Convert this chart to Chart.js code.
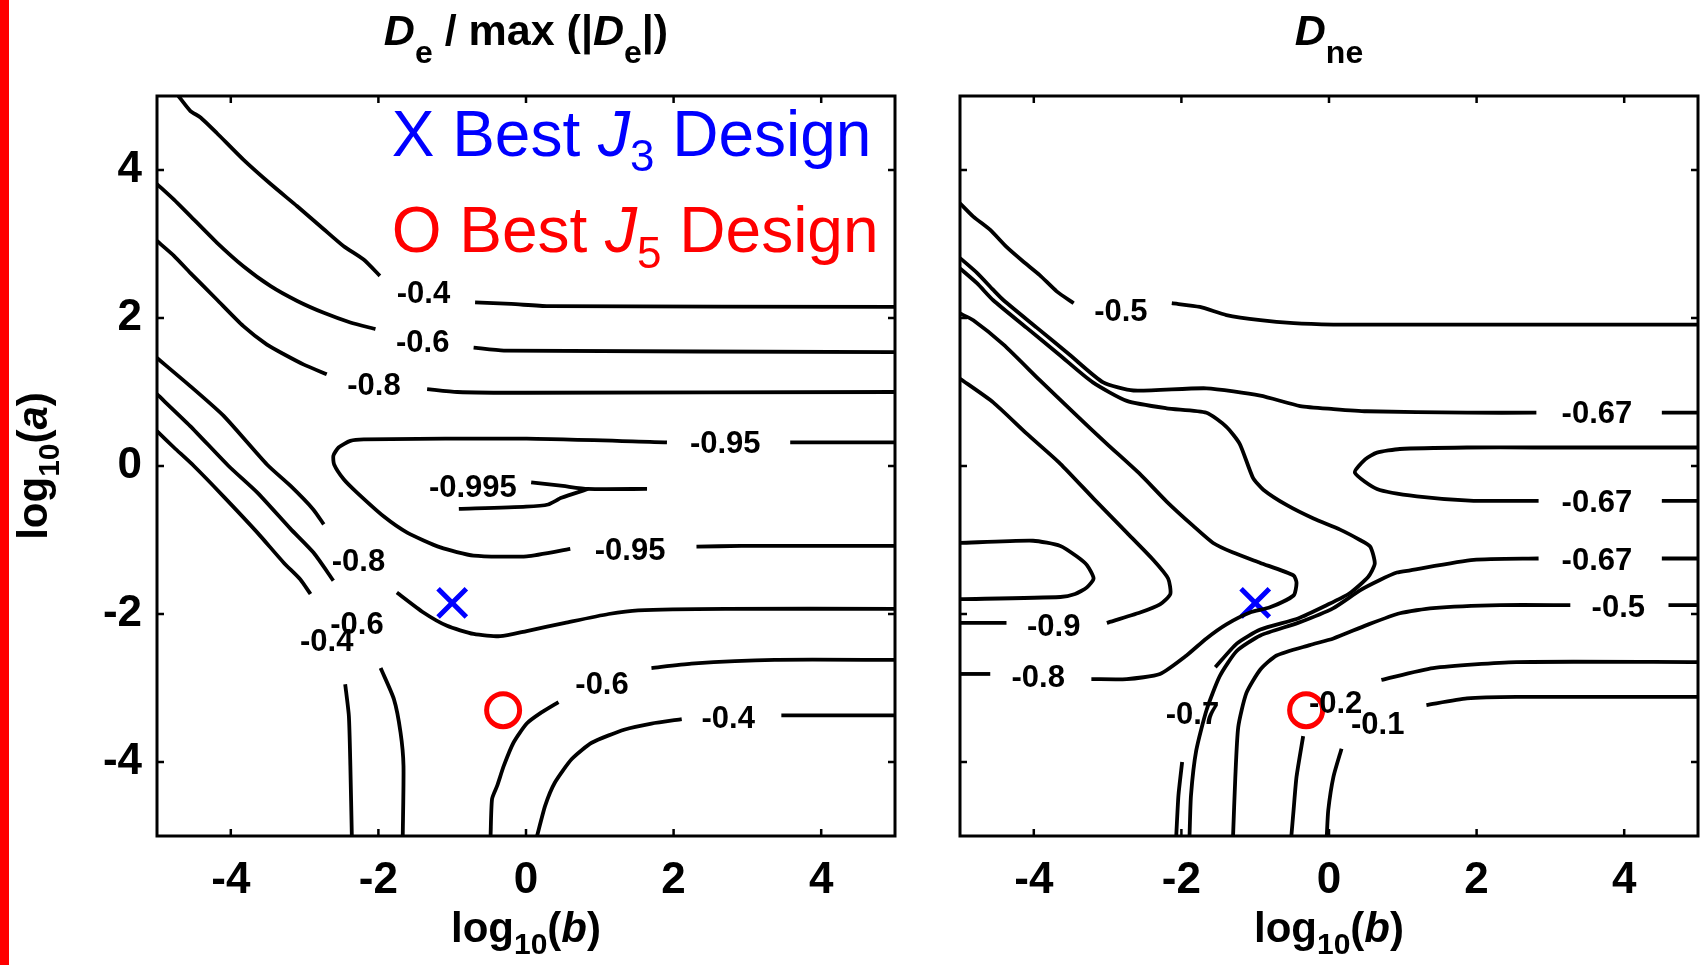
<!DOCTYPE html>
<html>
<head>
<meta charset="utf-8">
<script src="https://cdn.jsdelivr.net/npm/chart.js@4.4.0/dist/chart.umd.min.js"></script>
<style>
html, body { margin: 0; padding: 0; background: #fff; }
body { width: 1702px; height: 965px; position: relative; overflow: hidden; }
#bar { position: absolute; left: 0; top: 0; width: 9px; height: 965px; background: #ff0000; z-index: 2; }
#left { position: absolute; left: 0; top: 0; }
#right { position: absolute; left: 930px; top: 0; }
</style>
</head>
<body>
<div id="bar"></div>
<canvas id="left" width="930" height="965"></canvas>
<canvas id="right" width="772" height="965"></canvas>
<script>
'use strict';

const FONT = "'Liberation Sans', Arial, Helvetica, sans-serif";

let xTicks = [-4, -2, 0, 2, 4];
let yTicks = [-4, -2, 0, 2, 4];

let bestJ3 = [-1.0, -1.85];
let bestJ5 = [-0.31, -3.30];

// left panel, De / max(|De|): each contour piece between label gaps
let de04UpperA = [[-4.71,5],[-4.55,4.80],[-4.41,4.71],[-4.19,4.50],[-3.83,4.14],[-3.46,3.81],[-3.10,3.51],[-2.74,3.20],[-2.47,2.97],[-2.20,2.79],[-1.98,2.57]];
let de04UpperB = [[-0.69,2.21],[-0.20,2.19],[0.30,2.16],[5,2.15]];
let de06UpperA = [[-5,3.81],[-4.77,3.60],[-4.55,3.38],[-4.19,3.02],[-3.83,2.70],[-3.46,2.43],[-3.10,2.23],[-2.74,2.07],[-2.38,1.94],[-2.04,1.85]];
let de06UpperB = [[-0.71,1.60],[-0.30,1.56],[5,1.54]];
let de08UpperA = [[-5,3.04],[-4.77,2.84],[-4.55,2.61],[-4.19,2.25],[-3.83,1.89],[-3.51,1.64],[-3.28,1.51],[-3.01,1.37],[-2.70,1.24]];
let de08UpperB = [[-1.34,1.04],[-0.93,1.00],[0,0.99],[5,1.00]];
let de095A = [[5,0.32],[3.58,0.32]];
let de095B = [[1.91,0.32],[0.01,0.37],[-2.20,0.36],[-2.38,0.34],[-2.54,0.25],[-2.61,0.14],[-2.60,0.02],[-2.47,-0.18],[-2.29,-0.36],[-1.93,-0.68],[-1.61,-0.90],[-1.16,-1.10],[-0.71,-1.21],[0.01,-1.22],[0.60,-1.12]];
let de095C = [[2.31,-1.09],[2.92,-1.08],[5,-1.08]];
let de0995A = [[0.07,-0.22],[0.50,-0.27],[0.84,-0.31],[1.64,-0.31]];
let de0995B = [[-0.91,-0.58],[0,-0.55],[0.30,-0.52],[0.48,-0.43],[0.84,-0.31]];
let de08LowerA = [[-5,1.46],[-4.55,1.08],[-4.10,0.68],[-3.51,0.02],[-3.19,-0.27],[-2.88,-0.59],[-2.74,-0.79]];
let de08LowerB = [[-1.75,-1.71],[-1.39,-1.98],[-1.07,-2.16],[-0.71,-2.27],[-0.35,-2.30],[0.01,-2.23],[0.53,-2.12],[1.12,-2.00],[1.52,-1.95],[2.70,-1.93],[5,-1.93]];
let de06LowerA = [[-5,0.97],[-4.55,0.54],[-4.03,0.0],[-3.64,-0.36],[-3.19,-0.85],[-2.88,-1.17],[-2.61,-1.55]];
let de06LowerB = [[-1.97,-2.73],[-1.79,-3.15],[-1.70,-3.60],[-1.66,-4.05],[-1.67,-5]];
let de04LowerA = [[-5,0.47],[-4.77,0.25],[-4.50,0.0],[-4.10,-0.41],[-3.64,-0.90],[-3.28,-1.31],[-3.06,-1.53],[-2.92,-1.73]];
let de04LowerB = [[-2.45,-2.95],[-2.40,-3.38],[-2.38,-4.05],[-2.36,-5]];
let de06RightA = [[-0.48,-5],[-0.46,-4.50],[-0.39,-4.32],[-0.30,-4.05],[-0.17,-3.74],[0.01,-3.48],[0.21,-3.33],[0.44,-3.19]];
let de06RightB = [[1.70,-2.73],[2.24,-2.67],[3.37,-2.62],[5,-2.62]];
let de04RightA = [[0.15,-5],[0.26,-4.59],[0.39,-4.28],[0.62,-3.96],[0.89,-3.74],[1.34,-3.56],[1.70,-3.48],[2.11,-3.42]];
let de04RightB = [[3.46,-3.37],[5,-3.37]];

let deLabels = [['-0.4',-1.39,2.32],['-0.6',-1.40,1.66],['-0.8',-2.06,1.07],['-0.95',2.70,0.29],['-0.995',-0.72,-0.31],
  ['-0.95',1.41,-1.16],['-0.8',-2.27,-1.31],['-0.4',-2.70,-2.39],['-0.6',-2.29,-2.16],['-0.6',1.03,-2.96],['-0.4',2.74,-3.42]];

// right panel, Dne
let dne05UpperA = [[-5,3.55],[-4.82,3.37],[-4.59,3.19],[-4.37,2.96],[-4.14,2.76],[-3.92,2.58],[-3.69,2.36],[-3.46,2.20]];
let dne05UpperB = [[-2.13,2.20],[-1.75,2.15],[-1.39,2.04],[-0.93,1.97],[-0.48,1.93],[0.06,1.91],[0.42,1.91],[5,1.91]];
let dne067TopA = [[-5,2.81],[-4.77,2.61],[-4.55,2.38],[-4.41,2.24],[-3.96,1.87],[-3.51,1.50],[-3.06,1.13],[-2.65,1.02],[-1.66,1.05],[-0.93,0.95],[-0.39,0.81],[0.06,0.77],[0.51,0.74],[1.87,0.72],[2.81,0.72]];
let dne067TopB = [[4.51,0.72],[5,0.72]];
let dne07A = [[-5,2.67],[-4.77,2.47],[-4.55,2.24],[-4.10,1.87],[-3.65,1.50],[-3.20,1.13],[-2.74,0.88],[-2.20,0.78],[-1.66,0.72],[-1.39,0.53],[-1.21,0.30],[-1.03,-0.16],[-0.89,-0.32],[-0.57,-0.53],[-0.21,-0.71],[0.15,-0.86],[0.42,-1.00],[0.56,-1.09],[0.62,-1.32],[0.53,-1.50],[0.28,-1.72],[-0.03,-1.88],[-0.42,-2.06],[-0.93,-2.21],[-1.25,-2.40],[-1.54,-2.72]];
let dne07B = [[-1.99,-4.00],[-2.04,-4.45],[-2.07,-5]];
let dne067MidA = [[5,0.25],[2.77,0.25],[1.87,0.25],[0.96,0.23],[0.65,0.18],[0.49,0.09],[0.35,-0.09],[0.65,-0.31],[1.19,-0.41],[1.96,-0.47],[2.84,-0.47]];
let dne067MidB = [[4.51,-0.47],[5,-0.47]];
let dne067LowA = [[5,-1.25],[4.51,-1.25]];
let dne067LowB = [[2.84,-1.25],[1.96,-1.27],[1.10,-1.41],[0.92,-1.44],[0.69,-1.54],[0.42,-1.68],[0.06,-1.92],[-0.42,-2.12],[-0.93,-2.29],[-1.25,-2.50],[-1.48,-2.84],[-1.66,-3.30],[-1.80,-3.85],[-1.87,-4.45],[-1.89,-5]];
let dne05LowA = [[5,-1.88],[4.60,-1.88]];
let dne05LowB = [[3.27,-1.88],[2.32,-1.88],[1.41,-1.92],[0.96,-1.99],[0.51,-2.15],[0.06,-2.33],[-0.26,-2.42],[-0.71,-2.56],[-0.93,-2.75],[-1.12,-3.07],[-1.23,-3.53],[-1.27,-4.22],[-1.30,-5]];
let dne02A = [[5,-2.65],[2.54,-2.65],[1.41,-2.73],[0.71,-2.89]];
let dne02B = [[-0.35,-3.65],[-0.44,-4.20],[-0.48,-4.65],[-0.51,-5]];
let dne01A = [[5,-3.12],[2.54,-3.12],[1.87,-3.14],[1.32,-3.23]];
let dne01B = [[0.17,-3.82],[0.06,-4.20],[-0.01,-4.65],[-0.03,-5]];
let dne08A = [[-5,2.06],[-4.82,1.97],[-4.41,1.64],[-3.92,1.16],[-3.46,0.72],[-3.01,0.30],[-2.56,-0.11],[-2.20,-0.48],[-1.84,-0.81],[-1.57,-1.04],[-1.30,-1.17],[-0.93,-1.31],[-0.48,-1.48],[-0.44,-1.58],[-0.48,-1.75],[-0.80,-1.91],[-1.07,-1.98],[-1.39,-2.14],[-1.66,-2.33],[-1.93,-2.56],[-2.29,-2.81],[-2.74,-2.88],[-3.22,-2.88]];
let dne08B = [[-4.59,-2.81],[-5,-2.81]];
let dne09A = [[-5,1.18],[-4.55,0.86],[-4.10,0.44],[-3.64,0.03],[-3.19,-0.44],[-2.74,-0.90],[-2.38,-1.27],[-2.18,-1.52],[-2.15,-1.73],[-2.29,-1.87],[-2.56,-1.98],[-3.01,-2.12]];
let dne09B = [[-4.37,-2.12],[-5,-2.12]];
let dneInner = [[-5,-1.04],[-4.01,-1.01],[-3.64,-1.08],[-3.42,-1.22],[-3.28,-1.34],[-3.19,-1.52],[-3.28,-1.64],[-3.44,-1.73],[-3.64,-1.77],[-5,-1.80]];

let dneLabels = [['-0.5',-2.82,2.08],['-0.67',3.63,0.69],['-0.67',3.63,-0.50],['-0.67',3.63,-1.29],['-0.5',3.92,-1.92],
  ['-0.9',-3.73,-2.18],['-0.8',-3.94,-2.87],['-0.7',-1.85,-3.37],['-0.2',0.09,-3.22],['-0.1',0.66,-3.50]];

let deLines = [de04UpperA, de04UpperB, de06UpperA, de06UpperB, de08UpperA, de08UpperB, de095A, de095B, de095C,
  de0995A, de0995B, de08LowerA, de08LowerB, de06LowerA, de06LowerB, de04LowerA, de04LowerB,
  de06RightA, de06RightB, de04RightA, de04RightB];
let dneLines = [dne05UpperA, dne05UpperB, dne067TopA, dne067TopB, dne07A, dne07B, dne067MidA, dne067MidB,
  dne067LowA, dne067LowB, dne05LowA, dne05LowB, dne02A, dne02B, dne01A, dne01B, dne08A, dne08B, dne09A, dne09B, dneInner];

function lineSets(lines) {
  let sets = lines.map(function (pts) {
    return {
      data: pts.map(p => ({ x: p[0], y: p[1] })),
      showLine: true, fill: false, tension: 0.2,
      borderColor: '#000', borderWidth: 3.8, pointRadius: 0, pointHoverRadius: 0
    };
  });
  sets.push({ data: [{ x: bestJ3[0], y: bestJ3[1] }], pointStyle: 'crossRot', pointRadius: 20,
    borderColor: '#0000ff', backgroundColor: 'rgba(0,0,0,0)', borderWidth: 5, showLine: false });
  sets.push({ data: [{ x: bestJ5[0], y: bestJ5[1] }], pointStyle: 'circle', pointRadius: 16.5,
    borderColor: '#ff0000', backgroundColor: 'rgba(0,0,0,0)', borderWidth: 5, showLine: false });
  return sets;
}

function drawRich(ctx, parts, x, y, center) {
  let w = 0;
  parts.forEach(p => { ctx.font = p[1]; w += ctx.measureText(p[0]).width; });
  let cx = center ? x - w / 2 : x;
  ctx.textAlign = 'left';
  ctx.textBaseline = 'alphabetic';
  parts.forEach(p => {
    ctx.font = p[1];
    ctx.fillText(p[0], cx, y + (p[2] || 0));
    cx += ctx.measureText(p[0]).width;
  });
}

function axisParts(v) {
  return [['log', 'bold 42px ' + FONT], ['10', 'bold 30px ' + FONT, 12], ['(', 'bold 42px ' + FONT],
    [v, 'italic bold 42px ' + FONT], [')', 'bold 42px ' + FONT]];
}

function makeDeco(labels, title, yTitle, notes) {
  return {
    id: 'deco',
    afterDatasetsDraw(chart) {
      let ctx = chart.ctx, a = chart.chartArea, xs = chart.scales.x, ys = chart.scales.y;
      ctx.save();
      ctx.fillStyle = '#000';
      ctx.font = 'bold 31px ' + FONT;
      ctx.textAlign = 'center';
      ctx.textBaseline = 'middle';
      labels.forEach(l => ctx.fillText(l[0], xs.getPixelForValue(l[1]), ys.getPixelForValue(l[2])));

      ctx.strokeStyle = '#000';
      ctx.lineWidth = 3;
      ctx.strokeRect(a.left, a.top, a.right - a.left, a.bottom - a.top);
      ctx.lineWidth = 2.5;
      ctx.beginPath();
      xTicks.forEach(v => {
        let px = xs.getPixelForValue(v);
        ctx.moveTo(px, a.bottom); ctx.lineTo(px, a.bottom - 7);
        ctx.moveTo(px, a.top); ctx.lineTo(px, a.top + 7);
      });
      yTicks.forEach(v => {
        let py = ys.getPixelForValue(v);
        ctx.moveTo(a.left, py); ctx.lineTo(a.left + 7, py);
        ctx.moveTo(a.right, py); ctx.lineTo(a.right - 7, py);
      });
      ctx.stroke();

      ctx.fillStyle = '#000';
      drawRich(ctx, title, (a.left + a.right) / 2, 45, true);
      drawRich(ctx, axisParts('b'), (a.left + a.right) / 2, 942, true);
      if (yTitle) {
        ctx.save();
        ctx.translate(47, (a.top + a.bottom) / 2);
        ctx.rotate(-Math.PI / 2);
        drawRich(ctx, axisParts('a'), 0, 0, true);
        ctx.restore();
      }
      notes.forEach(n => {
        ctx.fillStyle = n.color;
        drawRich(ctx, n.parts, xs.getPixelForValue(n.x), ys.getPixelForValue(n.y), false);
      });
      ctx.restore();
    }
  };
}

function panelOptions(padRight, yWidth, showY) {
  let tickFont = { family: FONT, size: 44, weight: 'bold' };
  return {
    responsive: false, animation: false, events: [],
    layout: { autoPadding: false, padding: { top: 96, right: padRight, bottom: 0, left: 0 } },
    plugins: { legend: { display: false }, tooltip: { enabled: false } },
    scales: {
      x: {
        type: 'linear', min: -5, max: 5,
        afterBuildTicks: s => { s.ticks = xTicks.map(v => ({ value: v })); },
        afterFit: s => { s.height = 129; s.paddingLeft = 0; s.paddingRight = 0; },
        grid: { display: false }, border: { display: false },
        ticks: { color: '#000', padding: 10, maxRotation: 0, autoSkip: false, font: tickFont }
      },
      y: {
        type: 'linear', min: -5, max: 5,
        afterBuildTicks: s => { s.ticks = yTicks.map(v => ({ value: v })); },
        afterFit: s => { s.width = yWidth; s.paddingTop = 0; s.paddingBottom = 0; },
        grid: { display: false }, border: { display: false },
        ticks: { display: showY, color: '#000', padding: 7, autoSkip: false, font: tickFont }
      }
    }
  };
}

let big = '64px ' + FONT, bigIt = 'italic 64px ' + FONT, small = '44px ' + FONT;
let deNotes = [
  { color: '#0000ff', x: -1.82, y: 4.19, parts: [['X Best ', big], ['J', bigIt], ['3', small, 15], [' Design', big]] },
  { color: '#ff0000', x: -1.82, y: 2.89, parts: [['O Best ', big], ['J', bigIt], ['5', small, 16], [' Design', big]] }
];
let deTitle = [['D', 'italic bold 43px ' + FONT], ['e', 'bold 32px ' + FONT, 18], [' / max (|', 'bold 43px ' + FONT],
  ['D', 'italic bold 43px ' + FONT], ['e', 'bold 32px ' + FONT, 18], ['|)', 'bold 43px ' + FONT]];
let dneTitle = [['D', 'italic bold 43px ' + FONT], ['ne', 'bold 32px ' + FONT, 18]];

new Chart(document.getElementById('left'), {
  type: 'scatter',
  data: { datasets: lineSets(deLines) },
  options: panelOptions(35, 157, true),
  plugins: [makeDeco(deLabels, deTitle, true, deNotes)]
});

new Chart(document.getElementById('right'), {
  type: 'scatter',
  data: { datasets: lineSets(dneLines) },
  options: panelOptions(4, 30, false),
  plugins: [makeDeco(dneLabels, dneTitle, false, [])]
});
</script>
</body>
</html>
